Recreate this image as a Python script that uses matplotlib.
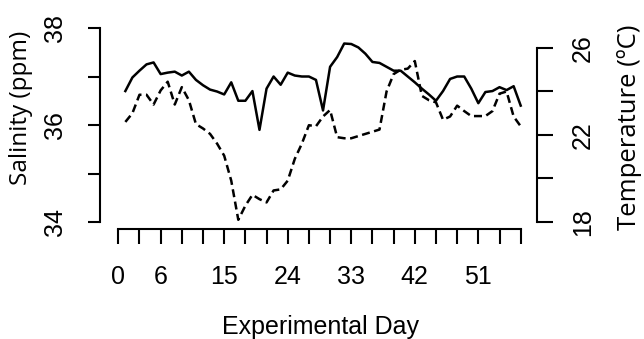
import matplotlib
matplotlib.use("agg")
import matplotlib.pyplot as plt

days = list(range(1, 58))
salinity = [
    36.7, 36.98, 37.12, 37.25, 37.29, 37.05, 37.08, 37.1, 37.02, 37.1,
    36.93, 36.82, 36.73, 36.69, 36.63, 36.88, 36.5, 36.5, 36.7, 35.9,
    36.75, 37.0, 36.83, 37.08, 37.02, 37.0, 37.0, 36.93, 36.3, 37.2,
    37.4, 37.68, 37.67, 37.6, 37.47, 37.3, 37.28, 37.2, 37.12, 37.12,
    37.0, 36.88, 36.75, 36.63, 36.5, 36.7, 36.95, 37.0, 37.0, 36.75,
    36.45, 36.68, 36.7, 36.78, 36.72, 36.8, 36.4,
]
temperature = [
    22.6, 23.0, 23.85, 23.85, 23.4, 24.05, 24.45, 23.4, 24.2, 23.6,
    22.5, 22.3, 22.05, 21.6, 21.05, 19.9, 18.1, 18.75, 19.25, 19.05,
    18.9, 19.45, 19.5, 19.9, 20.9, 21.6, 22.45, 22.4, 22.85, 23.15,
    21.9, 21.85, 21.85, 21.95, 22.05, 22.15, 22.25, 24.0, 24.8, 25.0,
    25.05, 25.4, 23.8, 23.6, 23.5, 22.7, 22.85, 23.35, 23.1, 22.87,
    22.87, 22.87, 23.1, 23.9, 24.0, 22.85, 22.4,
]
x_ticks = list(range(0, 58, 3))
x_labels = ["0", "6", "15", "24", "33", "42", "51"]
sal_ticks = [34, 35, 36, 37, 38]
sal_labels = ["34", "", "36", "", "38"]
temp_ticks = [18, 20, 22, 24, 26]
temp_labels = ["18", "", "22", "", "26"]

tick_font = "Liberation Sans"
label_font = "Open Sans"

fig = plt.figure(figsize=(6.44, 3.39), dpi=100)
ax = fig.add_axes([100 / 644, 110 / 339, 437 / 644, 209 / 339])
ax2 = ax.twinx()

ax.plot(days, salinity, color="black", lw=1.8)
ax2.plot(days, temperature, color="black", lw=1.8, dashes=(3.2, 1.8))

ax.set_xlim(-2.59, 59.31)
ax.set_ylim(33.856, 38.165)
ax2.set_ylim(17.678, 27.287)

for a in (ax, ax2):
    a.spines["top"].set_visible(False)
    for s in a.spines.values():
        s.set_linewidth(1.5)
ax.spines["right"].set_visible(False)
ax2.spines["left"].set_visible(False)
ax2.spines["bottom"].set_visible(False)
ax.spines["left"].set_bounds(34, 38)
ax2.spines["right"].set_bounds(18, 26)
ax.spines["bottom"].set_bounds(0, 57)

ax.set_xticks(x_ticks)
ax.set_xticklabels([str(t) if str(t) in x_labels else "" for t in x_ticks],
                   fontsize=18, family=tick_font)
ax.tick_params(axis="x", length=11, width=1.5, pad=15)

ax.set_yticks(sal_ticks)
ax.set_yticklabels(sal_labels, fontsize=18, family=tick_font, rotation=90, va="center")
ax.tick_params(axis="y", length=9, width=1.5, pad=15)

ax2.set_yticks(temp_ticks)
ax2.set_yticklabels(temp_labels, fontsize=18, family=tick_font, rotation=90, va="center")
ax2.tick_params(axis="y", length=11.5, width=1.5, pad=13)

fig.text(320 / 644, 1 - 327 / 339, "Experimental Day", fontsize=18, family=tick_font,
         ha="center", va="center")
fig.text(21 / 644, 1 - 108 / 339, "Salinity (ppm)", fontsize=17.5, family=label_font,
         rotation=90, ha="center", va="center")
fig.text(642 / 644, 1 - 127 / 339, "Temperature (ºC)", fontsize=18.5, family=label_font,
         rotation=90, ha="right", va="center")

fig.savefig("out.png", dpi=100, facecolor="white")
